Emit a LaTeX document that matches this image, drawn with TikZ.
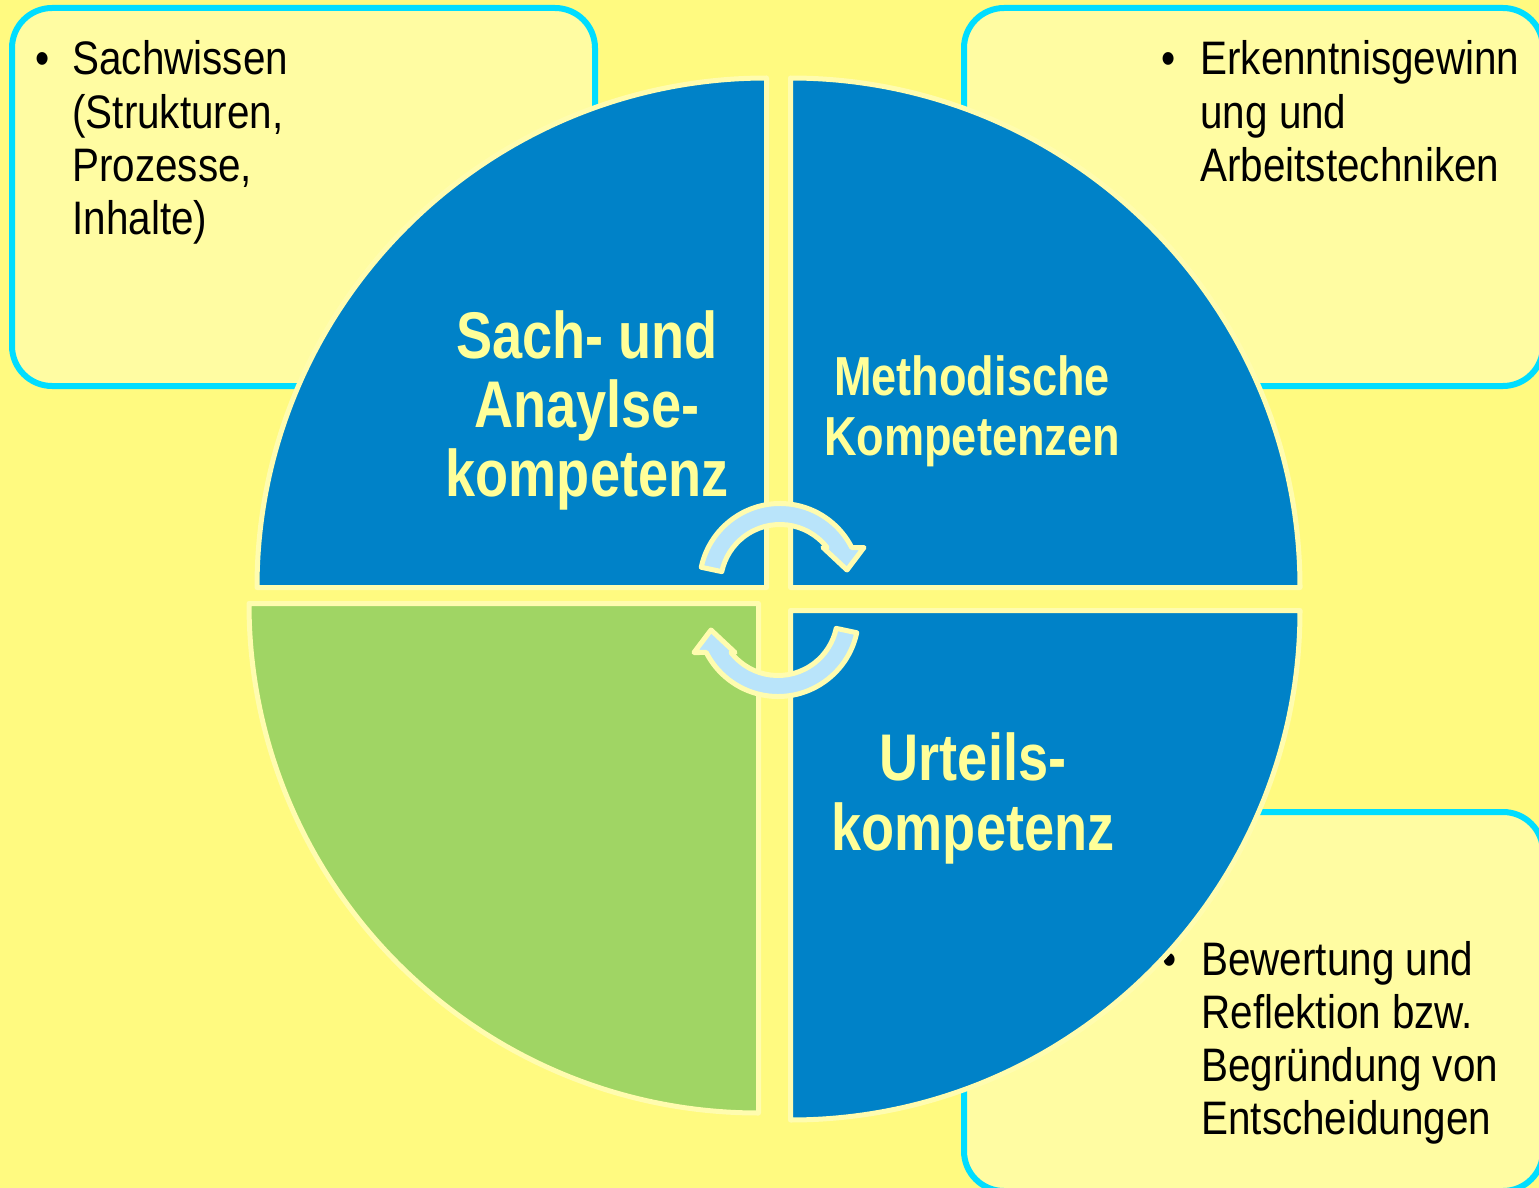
\documentclass[tikz,border=0pt]{standalone}
\usepackage{fontspec}
\setmainfont{Liberation Sans}
\newfontfamily\boxfont[FakeStretch=0.86]{Liberation Sans}
\newfontfamily\quadfont[FakeStretch=0.82]{Liberation Sans}
\definecolor{bgyellow}{RGB}{255,250,128}
\definecolor{boxfill}{RGB}{255,252,162}
\definecolor{boxcyan}{RGB}{0,221,255}
\definecolor{quadblue}{RGB}{0,130,200}
\definecolor{quadgreen}{RGB}{160,213,100}
\definecolor{quadedge}{RGB}{255,252,175}
\definecolor{quadtextcol}{RGB}{255,255,153}
\definecolor{arrowfill}{RGB}{185,228,250}
\begin{document}
\begin{tikzpicture}[x=0.5pt,y=-0.5pt,
  infobox/.style={fill=boxfill, draw=boxcyan, line width=3pt, rounded corners=20pt},
  quad/.style={draw=quadedge, line width=2.5pt, line join=round},
  boxtext/.style={anchor=base west, inner sep=0pt, text=black,
    font={\boxfont\fontsize{23.5pt}{26.65pt}\selectfont}},
  quadtext/.style={anchor=base, inner sep=0pt, text=quadtextcol},
  cyclearrow/.style={fill=arrowfill, draw=quadedge, line width=2.5pt, line join=round}]
\useasboundingbox (0,0) rectangle (1539,1188);
\fill[bgyellow] (0,0) rectangle (1539,1188);

% info boxes
\path[infobox] (12,8) rectangle (595,386);
\path[infobox] (964,8) rectangle (1543,386);
\path[infobox] (964,812) rectangle (1543,1191);

\node[boxtext] (sachwissen) at (35,75) {\begin{tabular}[t]{@{}l@{}l@{}}\makebox[18.5pt][l]{\textbullet} & Sachwissen\\ & (Strukturen,\\ & Prozesse,\\ & Inhalte)\end{tabular}};
\node[boxtext] (erkenntnis) at (1161,75) {\begin{tabular}[t]{@{}l@{}l@{}}\makebox[19.5pt][l]{\textbullet} & Erkenntnisgewinn\\ & ung und\\ & Arbeitstechniken\end{tabular}};
\node[boxtext] (bewertung) at (1162,975) {\begin{tabular}[t]{@{}l@{}l@{}}\makebox[19.5pt][l]{\textbullet} & Bewertung und\\ & Reflektion bzw.\\ & Begründung von\\ & Entscheidungen\end{tabular}};

% quadrants
\path[quad, fill=quadblue] (766.5,587.5) -- ++(-509.5,0) arc[start angle=180, end angle=270, radius=509.5] -- cycle;
\path[quad, fill=quadblue] (790.5,587.5) -- ++(509.5,0) arc[start angle=0, end angle=-90, radius=509.5] -- cycle;
\path[quad, fill=quadgreen] (758.5,603.5) -- ++(-509.5,0) arc[start angle=180, end angle=90, radius=509.5] -- cycle;
\path[quad, fill=quadblue] (790.5,610.5) -- ++(509.5,0) arc[start angle=0, end angle=90, radius=509.5] -- cycle;

% quadrant labels
\node[quadtext, font={\quadfont\bfseries\fontsize{33pt}{34.75pt}\selectfont}] (sach) at (587,358)
  {\begin{tabular}[t]{@{}c@{}}Sach- und\\Anaylse-\\kompetenz\end{tabular}};
\node[quadtext, font={\quadfont\bfseries\fontsize{27.5pt}{30pt}\selectfont}] (methodisch) at (972,395)
  {\begin{tabular}[t]{@{}c@{}}Methodische\\Kompetenzen\end{tabular}};
\node[quadtext, font={\quadfont\bfseries\fontsize{33pt}{35pt}\selectfont}] (urteil) at (973,780)
  {\begin{tabular}[t]{@{}c@{}}Urteils-\\kompetenz\end{tabular}};

% cycle arrows
\begin{scope}[shift={(780,584)}]
\path[cyclearrow] (192:80.5) arc[start angle=192, end angle=333.04, radius=80.5] -- (84,-36.5) -- (67,-14) -- (43,-36.5) -- (322.17:59.5) arc[start angle=322.17, end angle=192, radius=59.5] -- cycle;
\end{scope}
\begin{scope}[shift={(778,616)}, rotate=180]
\path[cyclearrow] (192:80.5) arc[start angle=192, end angle=333.04, radius=80.5] -- (84,-36.5) -- (67,-14) -- (43,-36.5) -- (322.17:59.5) arc[start angle=322.17, end angle=192, radius=59.5] -- cycle;
\end{scope}
\end{tikzpicture}
\end{document}
